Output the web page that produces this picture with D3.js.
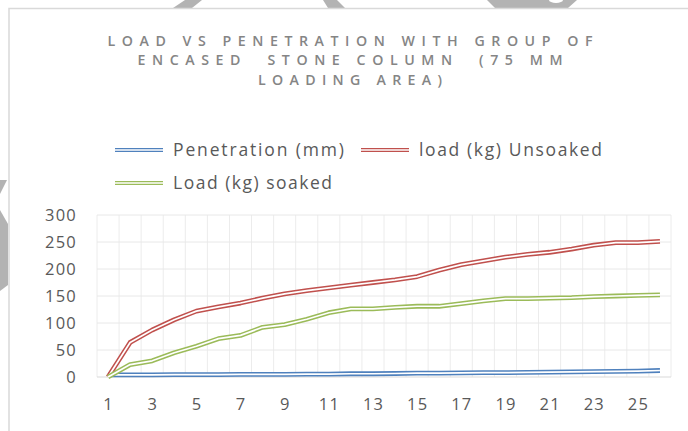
<!DOCTYPE html>
<html>
<head>
<meta charset="utf-8">
<script src="https://cdn.jsdelivr.net/npm/d3@7/dist/d3.min.js"></script>
<style>
  html, body { margin: 0; padding: 0; background: #fff; }
  svg { display: block; }
  text { font-family: "Open Sans", Lato, sans-serif; }
</style>
</head>
<body>
<svg id="chart" width="688" height="431"></svg>
<script>
// Load test readings, one entry per reading step
const categories = d3.range(1, 27);
const penetration = [4, 4, 4, 4.5, 4.5, 4.5, 5, 5, 5, 5.5, 5.5, 6, 6, 6.5, 7, 7, 7.5, 8, 8, 8.5, 9, 9.5, 10, 10.5, 11, 12];
const loadUnsoaked = [0, 64, 87, 106, 122, 130, 137, 146, 154, 160, 165, 170, 175, 180, 186, 198, 208, 215, 222, 227, 231, 237, 244, 249, 249, 251];
const loadSoaked = [0, 23, 30, 45, 57, 71, 77, 92, 97, 107, 119, 126, 126, 129, 131, 131, 136, 141, 145, 145, 146, 147, 149, 150, 151, 152];
const yTicks = [0, 50, 100, 150, 200, 250, 300];
const xTickLabels = categories.filter(d => d % 2 === 1);
const titleLines = ["LOAD VS PENETRATION WITH GROUP OF", "ENCASED  STONE COLUMN  (75 MM", "LOADING AREA)"];

const series = [
  { name: "Penetration (mm)", values: penetration, color: "#4f81bd" },
  { name: "load (kg) Unsoaked", values: loadUnsoaked, color: "#c0504d" },
  { name: "Load (kg) soaked", values: loadSoaked, color: "#9bbb59" }
];

const svg = d3.select("#chart");

// decorative page shapes peeking in at the edges
const deco = svg.append("g").attr("fill", "#b3b3b3");
[
  [[185, 0], [202, 0], [192, 8], [173, 8]],
  [[323, 0], [337, 0], [345, 8], [328, 8]],
  [[487, 0], [577, 0], [568, 8], [495, 8]],
  [[0, 180], [7, 180], [0, 194]],
  [[0, 210], [8, 224], [8, 285], [0, 291]]
].forEach(p => deco.append("polygon").attr("points", p.map(q => q.join(",")).join(" ")));
svg.append("ellipse").attr("cx", 556).attr("cy", 0).attr("rx", 7).attr("ry", 3).attr("fill", "#fff");

// chart frame
svg.append("rect").attr("x", 9).attr("y", 8.5).attr("width", 700).attr("height", 440)
  .attr("fill", "#fff").attr("stroke", "#d9d9d9").attr("stroke-width", 1.5);

// title
const title = svg.append("g").attr("fill", "#858585").attr("font-size", 14.2)
  .attr("font-weight", 600).attr("text-anchor", "middle");
const titleWidths = [485, 425, 184];
titleLines.forEach((t, i) => {
  title.append("text")
    .attr("x", 350).attr("y", 45.5 + i * 19.7)
    .attr("textLength", titleWidths[i]).attr("lengthAdjust", "spacing")
    .style("white-space", "pre")
    .text(t);
});

// legend
const legendItems = [
  { s: series[0], x: 115, y: 150, w: 171 },
  { s: series[1], x: 361, y: 150, w: 183 },
  { s: series[2], x: 115, y: 183, w: 159 }
];
const legend = svg.append("g");
legendItems.forEach(it => {
  legend.append("line").attr("x1", it.x).attr("x2", it.x + 48).attr("y1", it.y).attr("y2", it.y)
    .attr("stroke", it.s.color).attr("stroke-width", 4);
  legend.append("line").attr("x1", it.x).attr("x2", it.x + 48).attr("y1", it.y).attr("y2", it.y)
    .attr("stroke", "#fff").attr("stroke-width", 1.4);
  legend.append("text").attr("x", it.x + 58).attr("y", it.y + 6)
    .attr("font-size", 17.5).attr("fill", "#595959")
    .attr("textLength", it.w).attr("lengthAdjust", "spacing")
    .text(it.s.name);
});

// plot area
const plot = { left: 97, right: 671, top: 215, bottom: 377 };
const x = d3.scaleBand().domain(categories).range([plot.left, plot.right]).padding(0);
const y = d3.scaleLinear().domain([0, 300]).range([plot.bottom, plot.top]);
const cx = d => x(d) + x.bandwidth() / 2;

const grid = svg.append("g");
// vertical gridlines on category boundaries
grid.selectAll("line.v").data(categories.concat([null])).join("line")
  .attr("class", "v")
  .attr("x1", (d, i) => plot.left + i * x.bandwidth())
  .attr("x2", (d, i) => plot.left + i * x.bandwidth())
  .attr("y1", plot.top).attr("y2", plot.bottom)
  .attr("stroke", "#ececec").attr("stroke-width", 1);
grid.selectAll("line.h").data(yTicks.slice(1)).join("line")
  .attr("class", "h")
  .attr("x1", plot.left).attr("x2", plot.right)
  .attr("y1", d => y(d)).attr("y2", d => y(d))
  .attr("stroke", "#e8e8e8").attr("stroke-width", 1);
svg.append("line").attr("x1", plot.left).attr("x2", plot.right)
  .attr("y1", y(0)).attr("y2", y(0)).attr("stroke", "#d9d9d9").attr("stroke-width", 1.2);

// axes
const yAxis = svg.append("g").attr("transform", `translate(${plot.left},0)`)
  .call(d3.axisLeft(y).tickValues(yTicks).tickSize(0).tickPadding(20).tickFormat(d3.format("d")));
yAxis.select(".domain").remove();
yAxis.selectAll("text").attr("font-size", 16.5).attr("fill", "#595959")
  .style("font-family", "'Open Sans', sans-serif").style("letter-spacing", "1.2px").attr("dy", "0.36em");

const xAxis = svg.append("g").attr("transform", `translate(0,${plot.bottom})`)
  .call(d3.axisBottom(x).tickValues(xTickLabels).tickSize(0).tickPadding(21));
xAxis.select(".domain").remove();
xAxis.selectAll("text").attr("font-size", 16.5).attr("fill", "#595959")
  .style("font-family", "'Open Sans', sans-serif").style("letter-spacing", "1.2px")
  .attr("dx", "0.6px");

// series lines drawn as double strokes
const line = d3.line().x((d, i) => cx(categories[i])).y(d => y(d));
const lines = svg.append("g").attr("fill", "none").attr("stroke-linejoin", "round");
series.forEach(s => {
  lines.append("path").attr("d", line(s.values)).attr("stroke", s.color).attr("stroke-width", 4.8);
  lines.append("path").attr("d", line(s.values)).attr("stroke", "#fff").attr("stroke-width", 1.7);
});
</script>
</body>
</html>
